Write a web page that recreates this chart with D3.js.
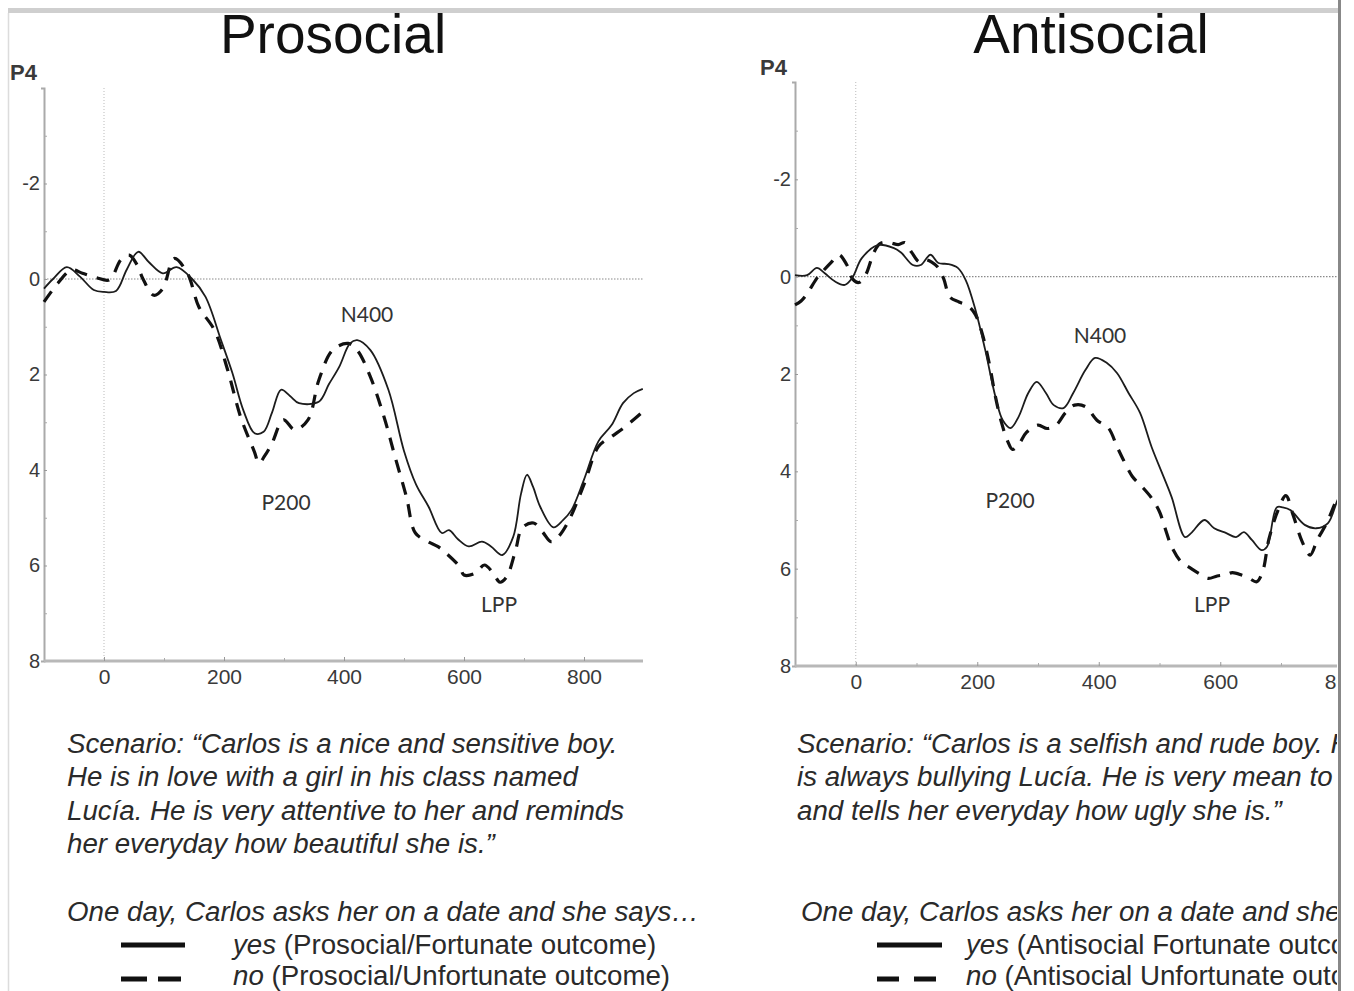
<!DOCTYPE html>
<html>
<head>
<meta charset="utf-8">
<script src="https://cdn.jsdelivr.net/npm/d3@7"></script>
<style>
  html, body { margin: 0; padding: 0; background: #fff; }
  svg { display: block; }
</style>
</head>
<body>
<svg id="chart" width="1354" height="991"></svg>
<script>
// ---------------- DATA ----------------
const panelTitles = ["Prosocial", "Antisocial"];
const channelName = "P4";
const timeTicks = [0, 200, 400, 600, 800];
const timeMinorTicks = [100, 300, 500, 700];
const ampTicks = [-2, 0, 2, 4, 6, 8];
const ampMinorTicks = [-3, -1, 1, 3, 5, 7];
const componentNames = ["N400", "P200", "LPP"];

// Prosocial / yes (solid)
const proYesT = [-100,-85,-62,-40,-17,0,20,38,57,75,98,121,147,169,195,214,232,251,266,280,295,310,325,358,375,392,410,422,444,474,500,520,541,563,575,590,608,630,645,664,682,695,705,715,727,749,765,779,800,824,846,865,883,898];
const proYesV = [0.2,0.0,-0.25,-0.05,0.23,0.27,0.25,-0.2,-0.57,-0.35,-0.12,-0.25,0.0,0.37,1.28,1.97,2.74,3.23,3.2,2.8,2.32,2.45,2.6,2.57,2.2,1.84,1.35,1.28,1.49,2.32,3.6,4.3,4.77,5.32,5.26,5.45,5.6,5.5,5.6,5.78,5.4,4.5,4.1,4.35,4.77,5.2,5.05,4.84,4.2,3.4,3.06,2.6,2.39,2.3];
// Prosocial / no (dashed)
const proNoT = [-100,-77,-54,-36,-13,9,28,42,55,65,83,98,117,139,158,184,206,228,251,258,268,280,299,318,340,358,381,407,422,444,467,485,504,519,540,556,570,593,600,619,634,648,660,671,686,697,716,731,745,757,775,801,824,846,868,898];
const proNoV = [0.48,0.09,-0.19,-0.12,-0.03,0.02,-0.4,-0.5,-0.3,0.0,0.34,0.2,-0.43,-0.12,0.58,1.07,1.9,2.9,3.63,3.86,3.7,3.44,2.95,3.16,2.95,2.12,1.49,1.35,1.49,2.05,2.9,3.72,4.56,5.32,5.5,5.6,5.74,6.03,6.2,6.16,5.99,6.15,6.35,6.24,5.68,5.21,5.11,5.3,5.5,5.4,5.05,4.27,3.51,3.3,3.1,2.78];
// Antisocial / yes (solid)
const antiYesT = [-100,-80,-64,-51,-34,-18,-6,10,36,62,75,94,107,123,136,152,168,181,197,213,230,242,255,268,284,298,313,326,342,358,378,394,413,430,449,468,487,507,520,542,552,574,590,610,626,639,652,668,677,693,703,716,739,758,777,793,810];
const antiYesV = [-0.03,-0.03,-0.18,-0.07,0.1,0.17,0.03,-0.38,-0.65,-0.59,-0.49,-0.24,-0.24,-0.45,-0.28,-0.26,-0.18,0.07,0.68,1.5,2.47,2.95,3.11,2.88,2.39,2.16,2.39,2.64,2.7,2.39,1.92,1.67,1.77,1.98,2.39,2.8,3.5,4.12,4.53,5.35,5.27,5.0,5.17,5.27,5.35,5.25,5.41,5.62,5.55,4.74,4.74,4.8,5.1,5.17,5.07,4.59,4.1];
// Antisocial / no (dashed)
const antiNoT = [-100,-90,-80,-65,-55,-40,-28,-15,-5,5,16,30,40,55,70,81,92,105,114,125,136,145,155,170,185,197,208,220,230,240,250,258,268,281,300,315,330,345,360,378,397,416,430,440,455,470,487,500,510,520,535,550,565,580,595,610,620,635,648,660,670,680,695,708,720,735,748,760,775,793,810];
const antiNoV = [0.58,0.5,0.35,0.05,-0.1,-0.3,-0.45,-0.25,0.05,0.12,-0.03,-0.5,-0.68,-0.7,-0.66,-0.7,-0.5,-0.3,-0.35,-0.3,-0.18,0.05,0.42,0.52,0.6,0.78,1.16,1.8,2.47,3.0,3.38,3.55,3.45,3.2,3.05,3.12,3.05,2.8,2.64,2.67,2.95,3.11,3.49,3.75,4.1,4.3,4.55,4.83,5.2,5.55,5.85,5.98,6.1,6.2,6.15,6.12,6.08,6.13,6.2,6.27,6.05,5.4,4.8,4.5,4.9,5.45,5.72,5.4,5.07,4.55,4.2];

const proScenario = [
  "Scenario: \u201cCarlos is a nice and sensitive boy.",
  "He is in love with a girl in his class named",
  "Lucía. He is very attentive to her and reminds",
  "her everyday how beautiful she is.\u201d"
];
const antiScenario = [
  "Scenario: \u201cCarlos is a selfish and rude boy. He",
  "is always bullying Lucía. He is very mean to her",
  "and tells her everyday how ugly she is.\u201d"
];
const questionText = "One day, Carlos asks her on a date and she says\u2026";
const answerWords = ["yes", "no"];
const proOutcomes = ["(Prosocial/Fortunate outcome)", "(Prosocial/Unfortunate outcome)"];
const antiOutcomes = ["(Antisocial Fortunate outcome)", "(Antisocial Unfortunate outcome)"];

// ---------------- LAYOUT ----------------
const panels = [
  {
    title: panelTitles[0], titleX: 333, titleY: 53,
    xRange: [44, 644], yRange: [88, 661], axisRight: 643,
    p4: [10, 80],
    yes: [proYesT, proYesV], no: [proNoT, proNoV],
    labels: [[367, 322], [286, 510], [499, 612]],
    scenario: proScenario, scenarioX: 67, questionX: 67,
    outcomes: proOutcomes,
    legendLine: [121, 185], legendDash: [[121, 147], [158, 181]], legendTextX: 233
  },
  {
    title: panelTitles[1], titleX: 1091, titleY: 53,
    xRange: [795, 1402.5], yRange: [82, 666], axisRight: 1337,
    p4: [760, 75],
    yes: [antiYesT, antiYesV], no: [antiNoT, antiNoV],
    labels: [[1100, 343], [1010, 508], [1212, 612]],
    scenario: antiScenario, scenarioX: 797, questionX: 801,
    outcomes: antiOutcomes,
    legendLine: [877, 942], legendDash: [[877, 899], [914, 936]], legendTextX: 966
  }
];

const svg = d3.select("#chart");
const defs = svg.append("defs");
defs.append("clipPath").attr("id", "pageClip")
  .append("rect").attr("x", 0).attr("y", 0).attr("width", 1337).attr("height", 991);

// frame
svg.append("rect").attr("x", 8).attr("y", 8).attr("width", 1330).attr("height", 5).attr("fill", "#cfcfcf");
svg.append("line").attr("x1", 8.5).attr("x2", 8.5).attr("y1", 13).attr("y2", 991)
  .attr("stroke", "#dcdcdc").attr("stroke-width", 1.5);

const root = svg.append("g").attr("clip-path", "url(#pageClip)");

const SANS = "'Liberation Sans', Arial, Helvetica, sans-serif";
const TXT = 27.7;

panels.forEach(p => {
  const x = d3.scaleLinear().domain([-100, 900]).range(p.xRange);
  const y = d3.scaleLinear().domain([-4, 8]).range(p.yRange);
  const g = root.append("g");

  // title
  g.append("text").attr("x", p.titleX).attr("y", p.titleY)
    .attr("text-anchor", "middle").attr("font-family", SANS)
    .attr("font-size", 55).attr("fill", "#111").text(p.title);

  // channel label
  g.append("text").attr("x", p.p4[0]).attr("y", p.p4[1])
    .attr("font-family", SANS).attr("font-size", 22).attr("font-weight", "bold")
    .attr("fill", "#3a3a3a").text(channelName);

  // dotted reference lines
  g.append("line").attr("x1", x(0)).attr("x2", x(0))
    .attr("y1", y(-4)).attr("y2", y(8))
    .attr("stroke", "#bbb").attr("stroke-width", 1).attr("stroke-dasharray", "1,2");
  g.append("line").attr("x1", p.xRange[0]).attr("x2", Math.min(p.axisRight, x(900)))
    .attr("y1", y(0)).attr("y2", y(0))
    .attr("stroke", "#8a8a8a").attr("stroke-width", 1.2).attr("stroke-dasharray", "1.5,1.5");

  // y axis
  const yAxis = d3.axisLeft(y).tickValues(ampTicks).tickFormat(d => String(d))
    .tickSizeInner(-3).tickSizeOuter(3).tickPadding(4);
  const ya = g.append("g").attr("transform", `translate(${p.xRange[0]},0)`).call(yAxis);
  ya.select(".domain").attr("stroke", "#aaa").attr("stroke-width", 2);
  ya.selectAll(".tick line").attr("stroke", "#999");
  ya.selectAll(".tick text").attr("font-family", SANS).attr("font-size", 20).attr("fill", "#3a3a3a");
  const yMinor = d3.axisLeft(y).tickValues(ampMinorTicks).tickFormat("").tickSizeInner(-3).tickSizeOuter(0);
  const ym = g.append("g").attr("transform", `translate(${p.xRange[0]},0)`).call(yMinor);
  ym.select(".domain").remove();
  ym.selectAll(".tick line").attr("stroke", "#aaa");

  // x axis
  const xAxis = d3.axisBottom(x).tickValues(timeTicks).tickSizeInner(-4).tickSizeOuter(0).tickPadding(8);
  const xa = g.append("g").attr("transform", `translate(0,${p.yRange[1]})`).call(xAxis);
  xa.select(".domain").attr("d", `M${p.xRange[0]},0H${p.axisRight}`)
    .attr("stroke", "#b8b8b8").attr("stroke-width", 3);
  xa.selectAll(".tick line").attr("stroke", "#999");
  xa.selectAll(".tick text").attr("font-family", SANS).attr("font-size", 21).attr("fill", "#3a3a3a");
  const xMinor = d3.axisBottom(x).tickValues(timeMinorTicks).tickFormat("").tickSizeInner(-3).tickSizeOuter(0);
  const xm = g.append("g").attr("transform", `translate(0,${p.yRange[1]})`).call(xMinor);
  xm.select(".domain").remove();
  xm.selectAll(".tick line").attr("stroke", "#aaa");

  // waveforms
  const line = d3.line().x(d => x(d[0])).y(d => y(d[1])).curve(d3.curveCatmullRom.alpha(0.5));
  const yesData = p.yes[0].map((t, i) => [t, p.yes[1][i]]);
  const noData = p.no[0].map((t, i) => [t, p.no[1][i]]);
  g.append("path").datum(noData).attr("d", line).attr("fill", "none")
    .attr("stroke", "#111").attr("stroke-width", 3.2).attr("stroke-dasharray", "13,10")
    .attr("stroke-linecap", "butt");
  g.append("path").datum(yesData).attr("d", line).attr("fill", "none")
    .attr("stroke", "#1c1c1c").attr("stroke-width", 1.8);

  // component labels
  componentNames.forEach((name, i) => {
    g.append("text").attr("x", p.labels[i][0]).attr("y", p.labels[i][1])
      .attr("text-anchor", "middle").attr("font-family", "Lato, 'Open Sans', sans-serif")
      .attr("font-size", 21).attr("fill", "#333").text(name);
  });

  // scenario text
  p.scenario.forEach((s, i) => {
    g.append("text").attr("x", p.scenarioX).attr("y", 753 + i * 33.3)
      .attr("font-family", SANS).attr("font-style", "italic")
      .attr("font-size", TXT).attr("fill", "#2a2a2a").text(s);
  });
  g.append("text").attr("x", p.questionX).attr("y", 921)
    .attr("font-family", SANS).attr("font-style", "italic")
    .attr("font-size", TXT).attr("fill", "#2a2a2a").text(questionText);

  // legend
  g.append("line").attr("x1", p.legendLine[0]).attr("x2", p.legendLine[1])
    .attr("y1", 945).attr("y2", 945).attr("stroke", "#111").attr("stroke-width", 5);
  p.legendDash.forEach(seg => {
    g.append("line").attr("x1", seg[0]).attr("x2", seg[1])
      .attr("y1", 979).attr("y2", 979).attr("stroke", "#111").attr("stroke-width", 5);
  });
  [954, 985].forEach((yy, i) => {
    const t = g.append("text").attr("x", p.legendTextX).attr("y", yy)
      .attr("font-family", SANS).attr("font-size", TXT).attr("fill", "#2a2a2a");
    t.append("tspan").attr("font-style", "italic").text(answerWords[i]);
    t.append("tspan").text(" " + p.outcomes[i]);
  });
});

// right border
svg.append("rect").attr("x", 1338).attr("y", 0).attr("width", 3).attr("height", 991).attr("fill", "#888");
</script>
</body>
</html>
